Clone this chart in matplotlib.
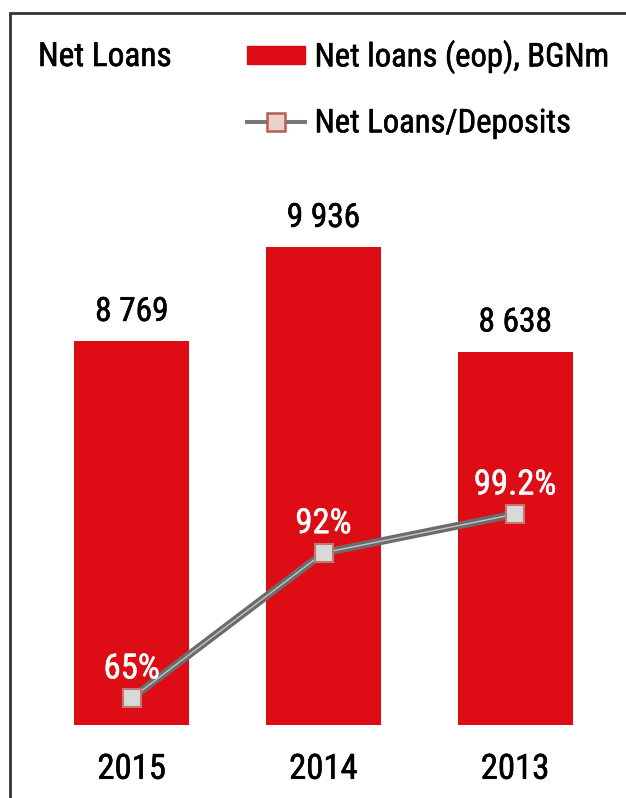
import matplotlib.pyplot as plt
import matplotlib.patheffects as pe
from matplotlib.lines import Line2D
from matplotlib.patches import Patch, Rectangle

years = ['2015', '2014', '2013']
net_loans = [8769, 9936, 8638]          # BGNm, end of period
loans_to_deposits = [65, 92, 99.2]      # %
loan_labels = ['8 769', '9 936', '8 638']
ratio_labels = ['65%', '92%', '99.2%']

RED = '#DE0C15'
GREY = '#6B6B6B'

plt.rcParams['font.family'] = ['Roboto Condensed', 'DejaVu Sans']


def heavier(color):
    # regular weight looks a touch light, thicken the glyphs slightly
    return [pe.withStroke(linewidth=0.4, foreground=color)]


fig = plt.figure(figsize=(6.26, 7.98), dpi=100)
W, H = 626, 798
ax = fig.add_axes([36 / W, 73 / H, 575 / W, 563.5 / H])

x = range(len(years))
ax.bar(x, [v - 4000 for v in net_loans], bottom=4000, width=0.6, color=RED, zorder=2)
ax.set_xlim(-0.5, 2.5)
ax.set_ylim(4000, 11000)
for xi, v, lab in zip(x, net_loans, loan_labels):
    ax.annotate(lab, (xi, v), xytext=(0, 21), textcoords='offset points',
                ha='center', va='center', fontsize=24, color='black',
                path_effects=heavier('black'))

ax.set_xticks(list(x))
ax.set_xticklabels(years, fontsize=25)
for t in ax.get_xticklabels():
    t.set_path_effects(heavier('black'))
ax.tick_params(axis='x', length=0, pad=20)
ax.set_yticks([])
for s in ax.spines.values():
    s.set_visible(False)

# loans/deposits ratio on a secondary scale
ax2 = ax.twinx()
ax2.set_ylim(60, 60 + 563.5 / 5.38)
ax2.plot(x, loans_to_deposits, color=GREY, lw=5.5, solid_capstyle='butt', zorder=3)
ax2.plot(x, loans_to_deposits, color='white', lw=1, alpha=0.6, zorder=4)
ax2.plot(x, loans_to_deposits, ls='none', marker='s', ms=12.5, mfc='#D9D9D9',
         mec='#C07870', mew=1.5, zorder=5)
for xi, v, lab in zip(x, loans_to_deposits, ratio_labels):
    ax2.annotate(lab, (xi, v), xytext=(0, 21), textcoords='offset points',
                 ha='center', va='center', fontsize=25, color='white',
                 path_effects=heavier('white'))
ax2.set_yticks([])
for s in ax2.spines.values():
    s.set_visible(False)

fig.text(38 / W, 1 - 57 / H, 'Net Loans', fontsize=24, va='center', ha='left',
         path_effects=heavier('black'))

handles = [
    Patch(color=RED, label='Net loans (eop), BGNm'),
    Line2D([], [], color='#777777', lw=2.9, marker='s', ms=13, mfc='#EBD0CB',
           mec='#B35F55', mew=1.8, label='Net Loans/Deposits'),
]
leg = fig.legend(handles=handles, loc='upper left', bbox_to_anchor=(247 / W, 1 - 39.5 / H),
                 frameon=False, fontsize=23.5, borderpad=0, borderaxespad=0,
                 handlelength=1.77, handleheight=0.46, handletextpad=0.3,
                 labelspacing=1.02)
for t in leg.get_texts():
    t.set_path_effects(heavier('black'))

# outer frame
fig.patches.append(Rectangle((10 / W, -0.05), 1.0, 1 - 13 / H + 0.05,
                             transform=fig.transFigure, fill=False,
                             edgecolor='#333333', lw=2))

fig.savefig('out.png', dpi=100)
